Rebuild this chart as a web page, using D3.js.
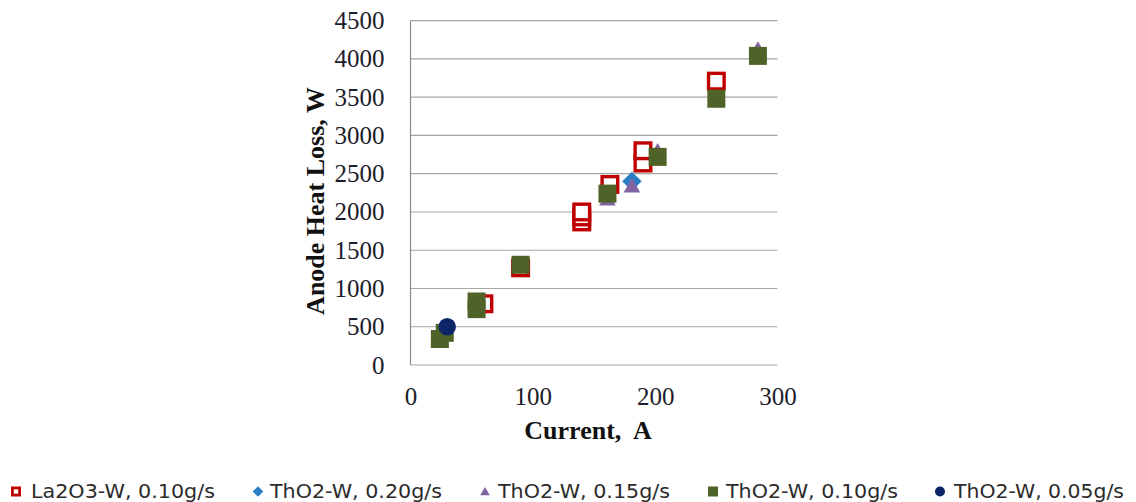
<!DOCTYPE html>
<html><head><meta charset="utf-8">
<script src="https://cdn.jsdelivr.net/npm/d3@7"></script>
<style>body{margin:0;background:#fff}svg{display:block}</style>
</head><body>
<svg id="c" width="1136" height="502"></svg>
<script>
const seriesNames = ["La2O3-W, 0.10g/s","ThO2-W, 0.20g/s","ThO2-W, 0.15g/s","ThO2-W, 0.10g/s","ThO2-W, 0.05g/s"];
const la2o3_010 = [[60,800],[90,1270],[140,1870],[140,1935],[140,2000],[163,2360],[190,2640],[190,2800],[250,3710]];
const tho2_020 = [[181,2400]];
const tho2_015 = [[161,2160],[181,2330],[202,2790],[284,4120]];
const tho2_010 = [[24,340],[28,420],[54,730],[54,830],[90,1310],[161,2240],[202,2720],[250,3480],[284,4040]];
const tho2_005 = [[30,500]];
const xTicks = [0,100,200,300];
const yTicks = [0,500,1000,1500,2000,2500,3000,3500,4000,4500];

const svg = d3.select("#c");
const x = d3.scaleLinear().domain([0,300]).range([410.5,777.5]);
const y = d3.scaleLinear().domain([0,4500]).range([365,20.7]);

svg.append("g").selectAll("line").data(yTicks).join("line")
  .attr("x1",x(0)).attr("x2",x(300)).attr("y1",d=>y(d)).attr("y2",d=>y(d))
  .attr("stroke","#a6a6a6").attr("stroke-width",1.2);
svg.append("line").attr("x1",x(0)).attr("x2",x(0)).attr("y1",y(0)).attr("y2",y(4500))
  .attr("stroke","#8c8c8c").attr("stroke-width",1.2);

const fmt = d3.format("d");
const yAxis = d3.axisLeft(y).tickValues(yTicks).tickFormat(fmt).tickSize(0).tickPadding(26);
const gy = svg.append("g").attr("transform",`translate(${x(0)},0)`).call(yAxis);
gy.select(".domain").remove();
gy.selectAll("text").attr("font-family","'Liberation Serif','Times New Roman',serif").attr("font-size",25).attr("fill","#1c1c2a");
const xAxis = d3.axisBottom(x).tickValues(xTicks).tickFormat(fmt).tickSize(0).tickPadding(22);
const gx = svg.append("g").attr("transform",`translate(0,${y(0)})`).call(xAxis);
gx.select(".domain").remove();
gx.selectAll("text").attr("font-family","'Liberation Serif','Times New Roman',serif").attr("font-size",25).attr("fill","#1c1c2a");

svg.append("text").attr("transform","translate(324,201) rotate(-90)").attr("text-anchor","middle")
  .attr("font-family","'Liberation Serif',serif").attr("font-weight","bold").attr("font-size",26).attr("fill","#111")
  .text("Anode Heat Loss, W");
svg.append("text").attr("x",588).attr("y",439).attr("text-anchor","middle").style("white-space","pre")
  .attr("font-family","'Liberation Serif',serif").attr("font-weight","bold").attr("font-size",26).attr("fill","#111")
  .text("Current,  A");

const colors = ["#c00000","#2e7cc4","#8064a2","#4f6228","#0c2468"];
function drawMarker(g, i, cx, cy, s, sw){
  if(i===0){
    const w = s - sw;
    g.append("rect").attr("x",cx-w/2).attr("y",cy-w/2).attr("width",w).attr("height",w)
      .attr("fill","#fff").attr("stroke",colors[0]).attr("stroke-width",sw);
  } else if(i===1){
    g.append("path").attr("d",d3.symbol().type(d3.symbolDiamond2).size(s*s*0.5)()).attr("transform",`translate(${cx},${cy})`).attr("fill",colors[1]);
  } else if(i===2){
    g.append("path").attr("d",d3.symbol().type(d3.symbolTriangle2).size(s*s*0.55)()).attr("transform",`translate(${cx},${cy+1})`).attr("fill",colors[2]);
  } else if(i===3){
    g.append("path").attr("d",d3.symbol().type(d3.symbolSquare).size(s*s)()).attr("transform",`translate(${cx},${cy})`).attr("fill",colors[3]);
  } else {
    g.append("path").attr("d",d3.symbol().type(d3.symbolCircle).size(Math.PI*(s/2)*(s/2))()).attr("transform",`translate(${cx},${cy})`).attr("fill",colors[4]);
  }
}
const all = [la2o3_010, tho2_020, tho2_015, tho2_010, tho2_005];
const sizes = [19,22,19,18,17.5];
all.forEach((arr,i)=>{
  const g = svg.append("g");
  arr.forEach(d=>drawMarker(g,i,x(d[0]),y(d[1]),sizes[i],3.4));
});

const legMarkX = [16,258,485,713,940];
const legTextX = [31,270,498,726,954];
const legTextW = [184,172,172,172,170];
const legSizes = [10,12,11,10,10];
const leg = svg.append("g");
seriesNames.forEach((n,i)=>{
  drawMarker(leg,i,legMarkX[i],491.5,legSizes[i],2.8);
  leg.append("text").attr("x",legTextX[i]).attr("y",497.5)
    .attr("font-family","'DejaVu Sans',sans-serif").attr("font-size",19).attr("fill","#2b2b2b")
    .attr("textLength",legTextW[i]).attr("lengthAdjust","spacingAndGlyphs")
    .text(n);
});
</script>
</body></html>
